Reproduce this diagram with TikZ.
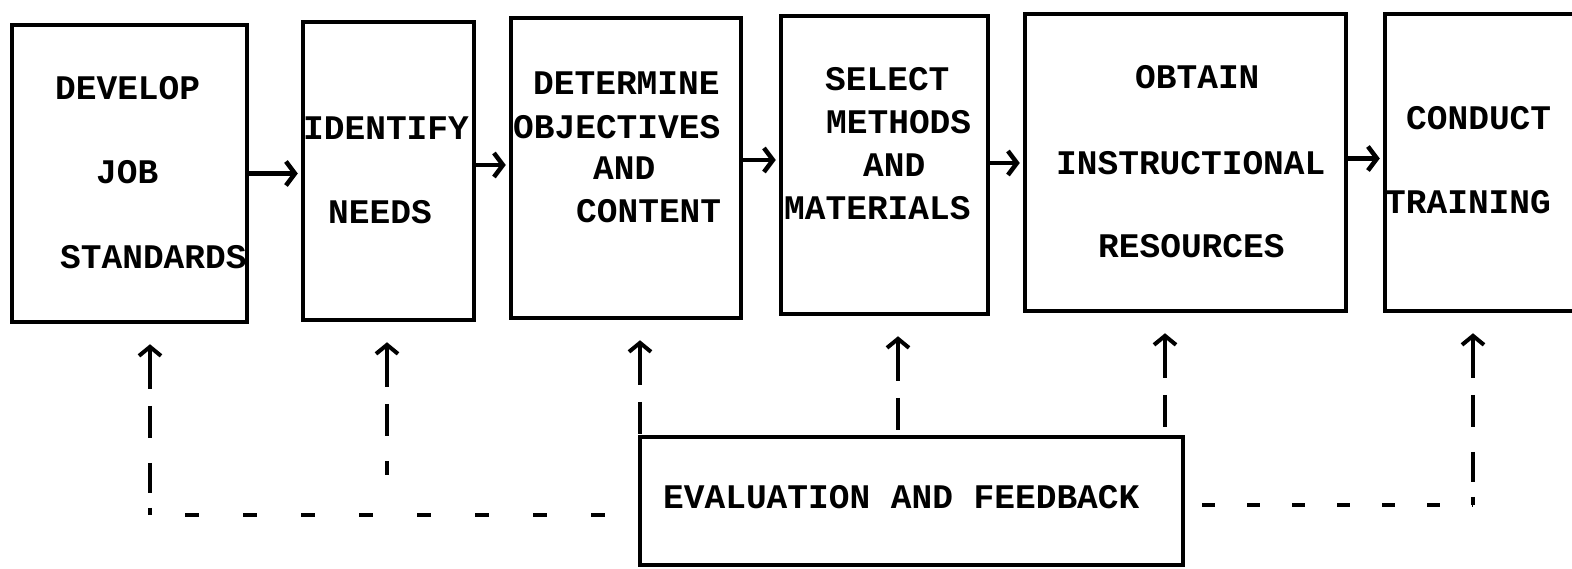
\documentclass[tikz,border=0pt]{standalone}
\usepackage{fontspec}
\setmainfont{Liberation Mono}
\usetikzlibrary{arrows.meta}
\begin{document}
\begin{tikzpicture}[x=1pt,y=-1pt,
  box/.style={draw,line width=4.5pt,inner sep=0pt,minimum width=#1},
  lbl/.style={anchor=west,inner sep=0pt,font=\fontsize{34.5}{40}\selectfont\bfseries},
  flow/.style={line width=4.5pt,-{Straight Barb[length=9pt,width=24pt,line width=4.5pt]},shorten >=3pt},
  fbup/.style={line width=4pt,{Straight Barb[length=9pt,width=22pt,line width=4pt]}-,
    dash pattern=on 40pt off 17pt on 32pt off 25pt on 30pt off 15pt on 40pt off 30pt,
    shorten <=20pt},
  fbline/.style={line width=4pt,dash pattern=on #1}]
\useasboundingbox (0,0) rectangle (1572,568);
\clip (0,0) rectangle (1572,568);
% boxes
\node[box=235pt,minimum height=297pt] (b1) at (129.5,173.5) {};
\node[box=171pt,minimum height=298pt] (b2) at (388.5,171) {};
\node[box=230pt,minimum height=300pt] (b3) at (626,168) {};
\node[box=207pt,minimum height=298pt] (b4) at (884.5,165) {};
\node[box=321pt,minimum height=297pt] (b5) at (1185.5,162.5) {};
\node[box=215pt,minimum height=297pt] (b6) at (1492.5,162.5) {};
\node[box=543pt,minimum height=128pt] (ev) at (911.5,501) {};
% texts
\node[lbl] (t1a) at (55,88) {DEVELOP};
\node[lbl] (t1b) at (96,172) {JOB};
\node[lbl] (t1c) at (60,257) {STANDARDS};
\node[lbl] (t2a) at (303,128) {IDENTIFY};
\node[lbl] (t2b) at (328,212) {NEEDS};
\node[lbl] (t3a) at (533,83) {DETERMINE};
\node[lbl] (t3b) at (513,127) {OBJECTIVES};
\node[lbl] (t3c) at (593,168) {AND};
\node[lbl] (t3d) at (576,211) {CONTENT};
\node[lbl] (t4a) at (825,79) {SELECT};
\node[lbl] (t4b) at (826,122) {METHODS};
\node[lbl] (t4c) at (863,165) {AND};
\node[lbl] (t4d) at (784,208) {MATERIALS};
\node[lbl] (t5a) at (1135,77) {OBTAIN};
\node[lbl] (t5b) at (1056,163) {INSTRUCTIONAL};
\node[lbl] (t5c) at (1098,246) {RESOURCES};
\node[lbl] (t6a) at (1406,118) {CONDUCT};
\node[lbl] (t6b) at (1385,202) {TRAINING};
\node[lbl] (tev) at (663,497) {EVALUATION AND FEEDBACK};
% flow arrows
\draw[flow] (b1.east) -- (b1.east -| b2.west);
\draw[flow] ([yshift=6pt]b2.east) -- ([yshift=6pt]b2.east -| b3.west);
\draw[flow] ([yshift=8pt]b3.east) -- ([yshift=8pt]b3.east -| b4.west);
\draw[flow] ([yshift=2pt]b4.east) -- ([yshift=2pt]b4.east -| b5.west);
\draw[flow] ([yshift=4pt]b5.east) -- ([yshift=4pt]b5.east -| b6.west);
% feedback
\coordinate (c1) at (150,515);
\coordinate (c2) at (387,475);
\coordinate (c6) at (1473,505);
\draw[fbup] (b1.south -| c1) -- (c1);
\draw[fbup] (b2.south -| c2) -- (c2);
\draw[fbup] (b3.south -| 640,0) -- (ev.north -| 640,0);
\draw[fbup] (b4.south -| 898,0) -- (ev.north -| 898,0);
\draw[fbup] (b5.south -| 1165,0) -- (ev.north -| 1165,0);
\draw[fbup] (b6.south -| c6) -- (c6);
\draw[fbline={14pt off 44pt}] (c1) ++(35,0) -- (c1 -| ev.west);
\draw[fbline={13pt off 32pt}] (c6 -| ev.east) ++(17,0) -- (c6);
\end{tikzpicture}
\end{document}
